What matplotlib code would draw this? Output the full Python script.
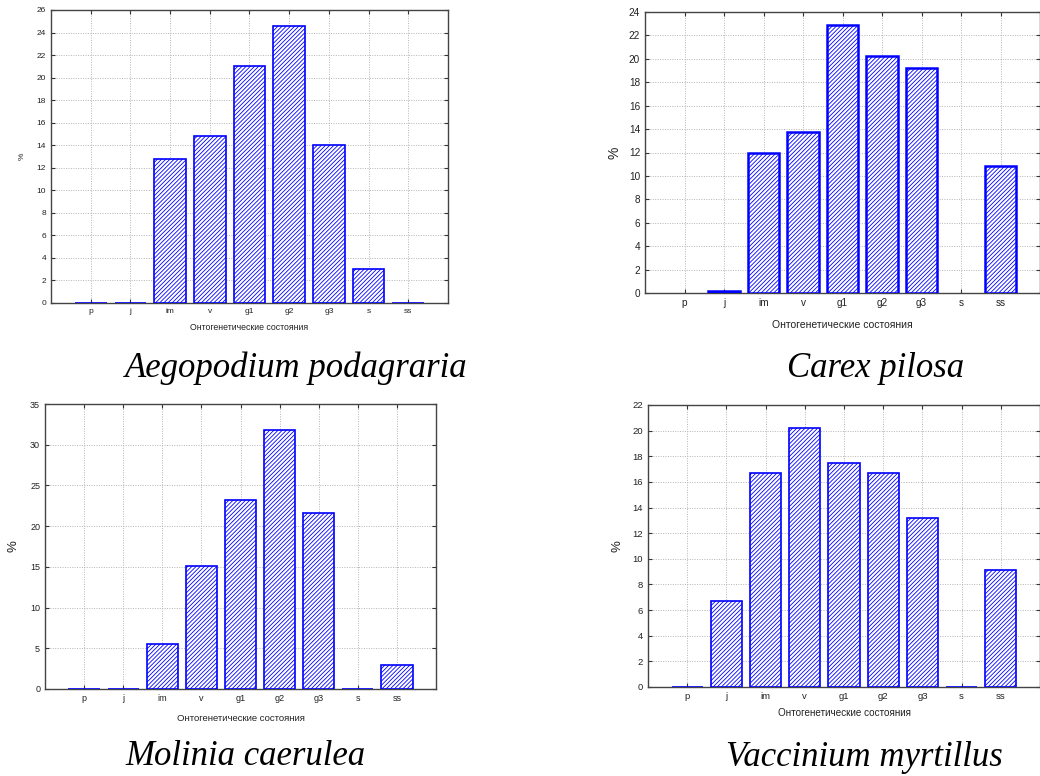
import numpy as np
import matplotlib
matplotlib.use("Agg")
import matplotlib.pyplot as plt
import matplotlib.ticker as ticker

plt.rcParams['font.family'] = ['Liberation Sans', 'DejaVu Sans']
plt.rcParams['hatch.linewidth'] = 0.6

stages = ['p', 'j', 'im', 'v', 'g1', 'g2', 'g3', 's', 'ss']

aegopodium = [0, 0, 12.8, 14.8, 21.0, 24.6, 14.0, 3.0, 0]
carex = [np.nan, 0.2, 12.0, 13.75, 22.9, 20.25, 19.2, np.nan, 10.85]
molinia = [0, 0, 5.5, 15.1, 23.2, 31.8, 21.6, 0, 2.95]
vaccinium = [0, 6.7, 16.7, 20.2, 17.5, 16.7, 13.2, 0, 9.1]

xlab = 'Онтогенетические состояния'

W, H = 1040, 776
fig = plt.figure(figsize=(W / 100, H / 100), dpi=100)


def px_axes(left, top, right, bottom):
    return fig.add_axes([left / W, 1 - bottom / H, (right - left) / W, (bottom - top) / H])


# (species, values, axes box px, ymax, ystep, tick fs, % fs, ylabel x, xlabel y, title baseline pos, bar lw)
panels = [
    ('Aegopodium podagraria', aegopodium, (51, 10, 448, 303), 26, 2, 6, 6, -0.072, -0.085, (296, 377), 1.2),
    ('Carex pilosa', carex, (645, 12, 1040, 293), 24, 2, 7.2, 10, -0.076, -0.114, (876, 377), 1.8),
    ('Molinia caerulea', molinia, (45, 404, 436, 689), 35, 5, 6.5, 9.5, -0.08, -0.102, (245, 765), 1.2),
    ('Vaccinium myrtillus', vaccinium, (648, 405, 1040, 687), 22, 2, 6.8, 9.5, -0.079, -0.092, (864, 766), 1.2),
]

for name, vals, box, ymax, ystep, fs, pfs, ylx, xly, tpos, lw in panels:
    ax = px_axes(*box)
    x = np.arange(len(stages))
    ax.bar(x, vals, width=0.8, color='white', edgecolor='#0000ff',
           hatch='////////', linewidth=lw, zorder=3)
    ax.set_xlim(-1, len(stages))
    ax.set_ylim(0, ymax)
    ax.yaxis.set_major_locator(ticker.MultipleLocator(ystep))
    ax.set_xticks(x)
    ax.set_xticklabels(stages)
    ax.tick_params(direction='in', length=3, width=0.8, labelsize=fs,
                   top=True, right=True, colors='#333333', labelcolor='#222222')
    ax.grid(True, linestyle=(0, (1, 1.5)), color='#b4b4b4', linewidth=0.7, zorder=0)
    for sp in ax.spines.values():
        sp.set_color('#444444')
        sp.set_linewidth(1.0)
    ax.set_ylabel('%', fontsize=pfs, color='#222222')
    ax.yaxis.set_label_coords(ylx, 0.5)
    ax.yaxis.label.set_va('center')
    ax.set_xlabel(xlab, fontsize=fs + 0.3, color='#222222')
    ax.xaxis.set_label_coords(0.5, xly)
    ax.xaxis.label.set_va('center')
    fig.text(tpos[0] / W, 1 - tpos[1] / H, name, fontsize=25, style='italic',
             family='Liberation Serif', ha='center', va='baseline')

fig.savefig('out.png', dpi=100, facecolor='white')
